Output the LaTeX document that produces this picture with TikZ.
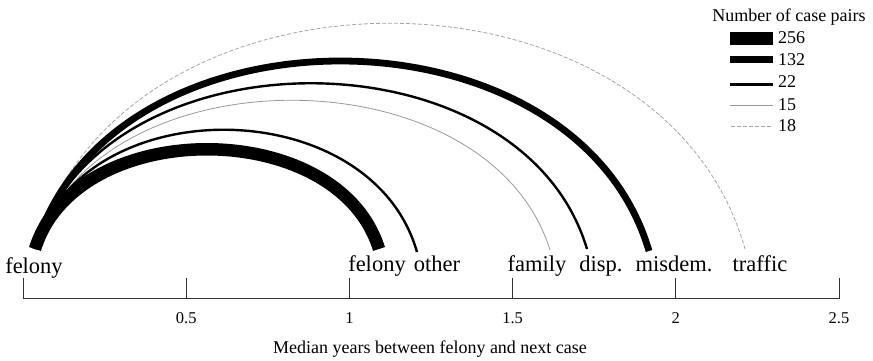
\documentclass[tikz,border=0pt]{standalone}
\usepackage{fontspec}
\setmainfont{Liberation Serif}
\newfontfamily\timesf{Liberation Serif}
\usetikzlibrary{positioning}

\begin{document}
\begin{tikzpicture}[
  x=1pt, y=-1pt,
  every node/.style={inner sep=0pt, font=\timesf\fontsize{18}{20}\selectfont},
  cat/.style={anchor=base, font=\timesf\fontsize{22.5}{24}\selectfont},
  ticklbl/.style={anchor=base, font=\timesf\fontsize{16.5}{18}\selectfont},
  axis/.style={line width=0.9pt, draw=black!80},
  heavy/.style={line width=12.5pt},
  strong/.style={line width=6.8pt},
  medium/.style={line width=2.4pt},
  faint/.style={line width=0.8pt, draw=black!40},
  rare/.style={line width=0.8pt, draw=black!35, dash pattern=on 4pt off 2pt},
]
\useasboundingbox (0,0) rectangle (873,360);

% categories on the time line
\node[cat] (felony)  at (34,273)  {felony};
\node[cat] (felony2) at (377,271) {felony};
\node[cat] (other)   at (437,271) {other};
\node[cat] (family)  at (537,271) {family};
\node[cat] (disp)    at (601,271) {disp.};
\node[cat] (misdem)  at (674,271) {misdem.};
\node[cat] (traffic) at (760,271) {traffic};

% arc ends
\coordinate (src)   at (35,249);
\coordinate (toFel) at (379,249);
\coordinate (toOth) at (417,252);
\coordinate (toFam) at (550,250);
\coordinate (toDis) at (587,249);
\coordinate (toMis) at (649,251);
\coordinate (toTra) at (745,249);

\draw[rare]   (src) .. controls +(85,-301) and +(-85,-301) .. (toTra);
\draw[strong] (src) .. controls +(74,-252) and +(-74,-252) .. (toMis);
\draw[medium] (src) .. controls +(66,-221) and +(-66,-221) .. (toDis);
\draw[faint]  (src) .. controls +(62,-199) and +(-62,-199) .. (toFam);
\draw[medium] (src) .. controls +(46,-161) and +(-46,-161) .. (toOth);
\draw[heavy]  (src) .. controls +(41,-133) and +(-41,-133) .. (toFel);

% axis
\draw[axis] (23,298) -- (839.5,298);
\foreach \v [count=\i] in {0,0.5,1,1.5,2,2.5} {
  \draw[axis] (23+326.4*\v,278) -- (23+326.4*\v,298);
  \ifnum\i>1 \node[ticklbl] (tick\i) at (23+326.4*\v,323) {\v}; \fi
}
\node[anchor=base] (xlab) at (430,353) {Median years between felony and next case};

% legend
\node[anchor=base] (legtitle) at (789,21.5) {Number of case pairs};
\node[anchor=base west] (k256) at (778,43)  {256};
\node[anchor=base west] (k132) at (778,65)  {132};
\node[anchor=base west] (k22)  at (778,87)  {22};
\node[anchor=base west] (k15)  at (778,110) {15};
\node[anchor=base west] (k18)  at (778,131) {18};
\draw[heavy]  (730,38.3)  -- (773,38.3);
\draw[strong] (730,59.2)  -- (773,59.2);
\draw[medium] (730,84.3)  -- (773,84.3);
\draw[faint]  (730,105.3) -- (773,105.3);
\draw[rare]   (731,126.7) -- (773,126.7);
\end{tikzpicture}
\end{document}
